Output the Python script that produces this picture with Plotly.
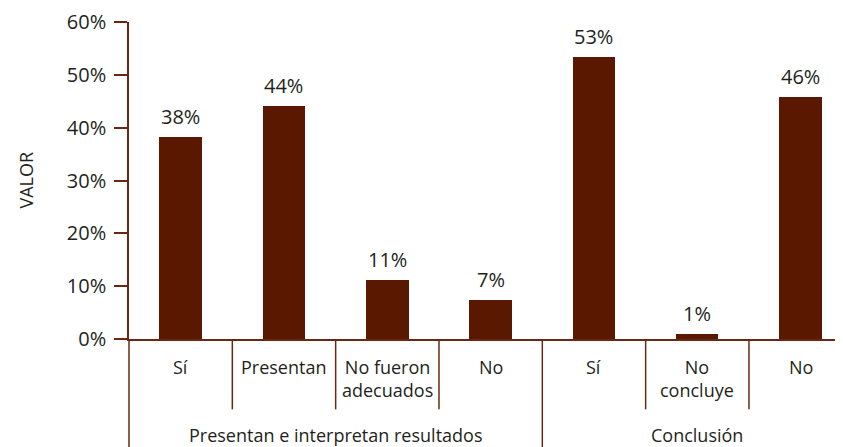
import plotly.graph_objects as go

# ---- data ----
groups = ["Presentan e interpretan resultados"] * 4 + ["Conclusión"] * 3
group_names = ["Presentan e interpretan resultados", "Conclusión"]
subcats = ["Sí", "Presentan", "No fueron<br>adecuados", "No", "Sí", "No<br>concluye", "No"]
values = [38.3, 44.1, 11.1, 7.3, 53.4, 1.0, 45.9]
labels = ["38%", "44%", "11%", "7%", "53%", "1%", "46%"]
y_ticks = [0, 10, 20, 30, 40, 50, 60]
y_ticktext = ["0%", "10%", "20%", "30%", "40%", "50%", "60%"]

bar_color = "#5a1800"
line_color = "#6a2812"
text_color = "#231f20"
font_family = "Open Sans, Noto Sans, sans-serif"

idx = list(range(len(values)))

fig = go.Figure()
fig.add_trace(go.Bar(
    x=idx, y=values, width=0.41,
    marker=dict(color=bar_color, line=dict(width=0)),
    hoverinfo="skip",
))

annotations = []
# value labels above bars
for i, (v, lab) in enumerate(zip(values, labels)):
    annotations.append(dict(
        x=i, y=v, xref="x", yref="y", text=lab, showarrow=False,
        yanchor="bottom", xanchor="center", yshift=5,
        font=dict(size=20, color=text_color, family=font_family),
    ))
# sub-category labels
for i, s in enumerate(subcats):
    annotations.append(dict(
        x=i, y=0, xref="x", yref="y", text=s, showarrow=False,
        yanchor="top", xanchor="center", yshift=-14,
        font=dict(size=18, color=text_color, family=font_family),
    ))
# group labels
for g in group_names:
    members = [i for i, gg in enumerate(groups) if gg == g]
    annotations.append(dict(
        x=sum(members) / len(members), y=0, xref="x", yref="y", text=g,
        showarrow=False, yanchor="middle", xanchor="center", yshift=-96,
        font=dict(size=18, color=text_color, family=font_family),
    ))
# y-axis title
annotations.append(dict(
    x=0, y=0.5, xref="paper", yref="paper", text="VALOR", textangle=-90,
    showarrow=False, xanchor="center", yanchor="middle", xshift=-104,
    font=dict(size=18, color=text_color, family=font_family),
))

shapes = []
# dividers between sub-categories (longer between groups)
for i in range(1, len(values)):
    outer = groups[i] != groups[i - 1]
    shapes.append(dict(
        type="line", xref="x", yref="paper", x0=i - 0.5, x1=i - 0.5,
        y0=0, y1=-0.345 if outer else -0.222,
        line=dict(color=line_color, width=1.5),
    ))
# left outer divider (extension of y axis)
shapes.append(dict(
    type="line", xref="paper", yref="paper", x0=0, x1=0, y0=0, y1=-0.345,
    line=dict(color=line_color, width=1.5),
))

fig.update_layout(
    width=835, height=439,
    margin=dict(l=121, r=0, t=14, b=108),
    paper_bgcolor="white", plot_bgcolor="white",
    showlegend=False,
    font=dict(family=font_family, color=text_color),
    xaxis=dict(
        range=[-0.5, 6.41], showticklabels=False, ticks="",
        showgrid=False, zeroline=False,
        showline=True, linecolor=line_color, linewidth=1.5,
    ),
    yaxis=dict(
        range=[0, 60], tickvals=y_ticks, ticktext=y_ticktext,
        ticks="outside", ticklen=13, tickcolor=line_color, tickwidth=1.5,
        showline=True, linecolor=line_color, linewidth=1.5,
        showgrid=False, zeroline=False,
        tickfont=dict(size=20, color=text_color, family=font_family),
        ticklabelstandoff=4,
    ),
    annotations=annotations,
    shapes=shapes,
    bargap=0,
)

fig.write_html("out.html")
